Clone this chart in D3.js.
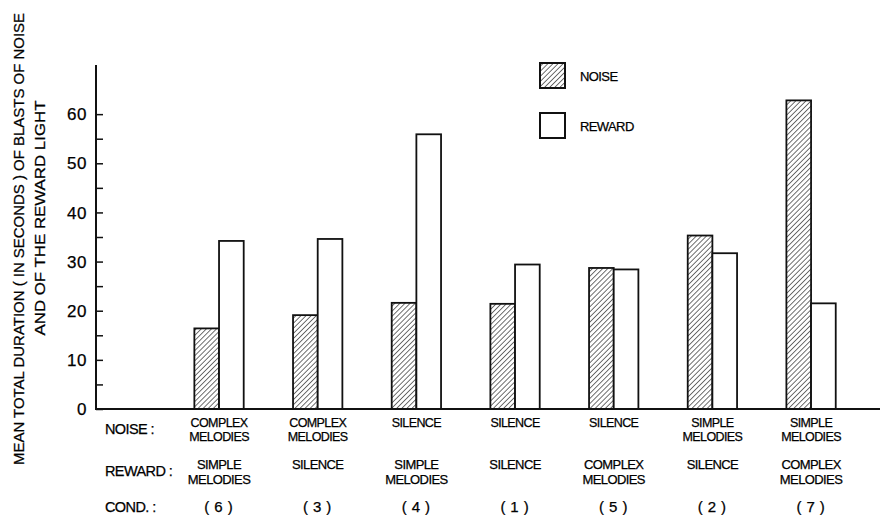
<!DOCTYPE html>
<html><head><meta charset="utf-8">
<script src="https://cdn.jsdelivr.net/npm/d3@7"></script>
<style>body{margin:0;background:#fff}svg{display:block}text{font-family:"Liberation Sans",Arial,sans-serif;fill:#000;stroke:#000;stroke-width:0.25px}</style>
</head><body>
<svg id="c" width="883" height="515"></svg>
<script>
const conditions = ["(6)","(3)","(4)","(1)","(5)","(2)","(7)"];
const noiseLabels = [["COMPLEX","MELODIES"],["COMPLEX","MELODIES"],["SILENCE"],["SILENCE"],["SILENCE"],["SIMPLE","MELODIES"],["SIMPLE","MELODIES"]];
const rewardLabels = [["SIMPLE","MELODIES"],["SILENCE"],["SIMPLE","MELODIES"],["SILENCE"],["COMPLEX","MELODIES"],["SILENCE"],["COMPLEX","MELODIES"]];
const noiseValues = [16.4, 19.1, 21.6, 21.4, 28.7, 35.3, 62.8];
const rewardValues = [34.2, 34.6, 55.9, 29.4, 28.4, 31.7, 21.5];
const yTicks = [0,10,20,30,40,50,60];
const seriesNames = ["NOISE","REWARD"];
const rowLabels = ["NOISE :","REWARD :","COND. :"];

const svg = d3.select("#c");
const y = d3.scaleLinear().domain([0,70]).range([409,65]);
const x = d3.scaleBand().domain(conditions).range([169.7,860.4]).paddingInner(0.5).paddingOuter(0.25);

const defs = svg.append("defs");
const pat = defs.append("pattern").attr("id","hatch").attr("patternUnits","userSpaceOnUse")
  .attr("width",3.6).attr("height",3.6).attr("patternTransform","rotate(45)");
pat.append("rect").attr("width",3.6).attr("height",3.6).attr("fill","#fff");
pat.append("line").attr("x1",0).attr("y1",0).attr("x2",0).attr("y2",3.6).attr("stroke","#222").attr("stroke-width",1.3);

const bw = x.bandwidth()/2;
const g = svg.append("g");
g.selectAll(".n").data(conditions).join("rect")
  .attr("x",d=>x(d)).attr("y",(d,i)=>y(noiseValues[i])).attr("width",bw)
  .attr("height",(d,i)=>y(0)-y(noiseValues[i]))
  .attr("fill","url(#hatch)").attr("stroke","#111").attr("stroke-width",1.8);
g.selectAll(".r").data(conditions).join("rect")
  .attr("x",d=>x(d)+bw).attr("y",(d,i)=>y(rewardValues[i])).attr("width",bw)
  .attr("height",(d,i)=>y(0)-y(rewardValues[i]))
  .attr("fill","#fff").attr("stroke","#111").attr("stroke-width",1.8);

// axes
const yAxis = d3.axisRight(y).tickValues(d3.range(0,61,5)).tickSize(7).tickFormat("");
const ya = svg.append("g").attr("transform","translate(96,0)").call(yAxis);
ya.select(".domain").remove();
ya.selectAll("line").attr("stroke","#111").attr("stroke-width",1.5);
svg.append("line").attr("x1",96).attr("x2",96).attr("y1",65).attr("y2",y(0)+1).attr("stroke","#111").attr("stroke-width",2);
svg.append("line").attr("x1",95).attr("x2",880).attr("y1",y(0)).attr("y2",y(0)).attr("stroke","#111").attr("stroke-width",2);
svg.selectAll(".yl").data(yTicks).join("text")
  .attr("x",87).attr("y",d=>y(d)).attr("dy","0.36em").attr("text-anchor","end")
  .style("font-size","17px").style("letter-spacing","0.5px").text(d=>d);

// y title
const yt = svg.append("g");
yt.append("text").attr("transform","translate(24,239) rotate(-90)").attr("text-anchor","middle")
  .attr("textLength",452).attr("lengthAdjust","spacingAndGlyphs")
  .style("font-size","15px").text("MEAN TOTAL DURATION ( IN SECONDS ) OF BLASTS OF NOISE");
yt.append("text").attr("transform","translate(45,218) rotate(-90)").attr("text-anchor","middle")
  .attr("textLength",235).attr("lengthAdjust","spacingAndGlyphs")
  .style("font-size","15px").text("AND OF THE REWARD LIGHT");

// category labels
const cx = d => x(d)+x.bandwidth()/2;
function multi(lines, xx, y0, dy, fs){
  const t = svg.append("text").attr("text-anchor","middle")
    .style("font-size",fs+"px").style("letter-spacing","-0.6px");
  lines.forEach((s,j)=>t.append("tspan").attr("x",xx).attr("y",y0+j*dy).text(s));
}
conditions.forEach((c,i)=>{
  multi(noiseLabels[i], cx(c), 426.5, 14, 12.5);
  multi(rewardLabels[i], cx(c), 469, 15, 13);
  svg.append("text").attr("x",cx(c)+2).attr("y",512).attr("text-anchor","middle")
    .style("font-size","15px").style("letter-spacing","5px").text(c);
});
rowLabels.forEach((t,i)=>{
  svg.append("text").attr("x",105).attr("y",[434,476,512][i])
    .style("font-size","14.5px").style("letter-spacing","-0.6px").text(t);
});

// legend
const lg = svg.append("g");
seriesNames.forEach((s,i)=>{
  lg.append("rect").attr("x",540).attr("y",63+i*50).attr("width",25).attr("height",25)
    .attr("fill",i===0?"url(#hatch)":"#fff").attr("stroke","#111").attr("stroke-width",2);
  lg.append("text").attr("x",580).attr("y",76+i*50).attr("dy","0.36em")
    .style("font-size","13px").style("letter-spacing","-0.6px").text(s);
});
</script>
</body></html>
